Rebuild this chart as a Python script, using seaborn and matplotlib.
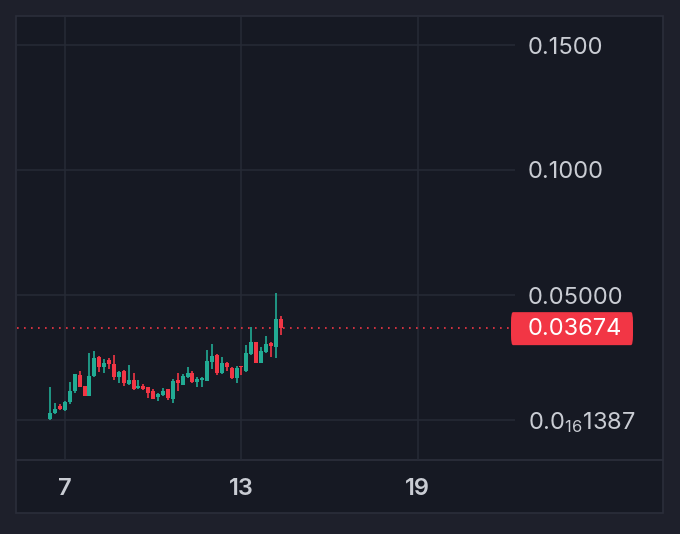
import numpy as np
import pandas as pd
import matplotlib
matplotlib.use("Agg")
import matplotlib.pyplot as plt
import matplotlib.transforms as mtransforms
from matplotlib.patches import Rectangle, FancyBboxPatch
from matplotlib.lines import Line2D
import seaborn as sns

# ---------------- data (4-hour candles) ----------------
start_day = 6.5          # first candle: day 6, 12:00
candle_hours = 4
opens = [0.0003, 0.0027, 0.0056, 0.0040, 0.0071, 0.0116, 0.0180, 0.0136, 0.0096, 0.0176,
         0.0253, 0.0211, 0.0240, 0.0224, 0.0173, 0.0197, 0.0144, 0.0160, 0.0127, 0.0136,
         0.0131, 0.0117, 0.0091, 0.0100, 0.0123, 0.0085, 0.0160, 0.0141, 0.0173, 0.0187,
         0.0153, 0.0160, 0.0157, 0.0233, 0.0260, 0.0189, 0.0227, 0.0207, 0.0169, 0.0216,
         0.0197, 0.0264, 0.0311, 0.0229, 0.0273, 0.0307, 0.0293, 0.0403]
highs = [0.0131, 0.0069, 0.0064, 0.0077, 0.0153, 0.0185, 0.0197, 0.0138, 0.0267, 0.0276,
         0.0256, 0.0243, 0.0247, 0.0260, 0.0198, 0.0200, 0.0220, 0.0189, 0.0160, 0.0144,
         0.0133, 0.0123, 0.0107, 0.0127, 0.0125, 0.0163, 0.0189, 0.0184, 0.0211, 0.0196,
         0.0173, 0.0173, 0.0280, 0.0303, 0.0265, 0.0253, 0.0233, 0.0211, 0.0216, 0.0217,
         0.0300, 0.0371, 0.0313, 0.0293, 0.0336, 0.0313, 0.0509, 0.0416]
lows = [0.0001, 0.0025, 0.0040, 0.0038, 0.0065, 0.0110, 0.0131, 0.0096, 0.0096, 0.0172,
        0.0193, 0.0189, 0.0203, 0.0160, 0.0147, 0.0136, 0.0140, 0.0120, 0.0124, 0.0120,
        0.0087, 0.0083, 0.0077, 0.0097, 0.0080, 0.0067, 0.0117, 0.0139, 0.0170, 0.0149,
        0.0133, 0.0133, 0.0155, 0.0203, 0.0180, 0.0185, 0.0197, 0.0165, 0.0149, 0.0180,
        0.0193, 0.0260, 0.0227, 0.0227, 0.0270, 0.0251, 0.0247, 0.0340]
closes = [0.0027, 0.0043, 0.0043, 0.0073, 0.0116, 0.0183, 0.0133, 0.0096, 0.0176, 0.0249,
          0.0211, 0.0227, 0.0224, 0.0173, 0.0193, 0.0147, 0.0160, 0.0123, 0.0136, 0.0123,
          0.0107, 0.0085, 0.0104, 0.0117, 0.0087, 0.0157, 0.0147, 0.0176, 0.0187, 0.0151,
          0.0164, 0.0167, 0.0236, 0.0256, 0.0189, 0.0227, 0.0211, 0.0167, 0.0207, 0.0211,
          0.0267, 0.0313, 0.0229, 0.0277, 0.0304, 0.0296, 0.0403, 0.03674]
last_price = 0.03674
last_price_label = "0.03674"

x_ticks = [7, 13, 19]
x_tick_labels = ["7", "13", "19"]
y_ticks = [0.15, 0.10, 0.05, 0.0]
y_tick_labels = ["0.1500", "0.1000", "0.05000", "0.0$_{16}$1387"]

df = pd.DataFrame({"open": opens, "high": highs, "low": lows, "close": closes})
df["t"] = start_day + np.arange(len(df)) * candle_hours / 24.0
df["up"] = df["close"] >= df["open"]

# ---------------- style ----------------
BG_OUT = "#1e202b"
BG_PANEL = "#161923"
GRID = "#262a36"
BORDER = "#2b2e3a"
TXT = "#c9ccd3"
GREEN = "#22ab94"
RED = "#f23645"

sns.set_theme(style="dark", rc={
    "axes.facecolor": BG_PANEL,
    "figure.facecolor": BG_OUT,
    "grid.color": GRID,
    "text.color": TXT,
    "xtick.color": TXT,
    "ytick.color": TXT,
})
plt.rcParams["font.family"] = ["Inter", "DejaVu Sans"]
plt.rcParams["mathtext.default"] = "regular"

W, H = 680, 534
fig = plt.figure(figsize=(W / 100, H / 100), dpi=100)

# chart panel background + border
panel = Rectangle((16 / W, (H - 513) / H), (663 - 16) / W, (513 - 16) / H,
                  transform=fig.transFigure, facecolor=BG_PANEL, edgecolor=BORDER,
                  linewidth=1.2, zorder=-10)
fig.patches.append(panel)

ax = fig.add_axes([17 / W, (H - 460) / H, 498 / W, 443 / H])
ax.set_zorder(5)
ax.patch.set_alpha(0)
ax.set_xlim(5.37, 22.30)
ax.set_ylim(-0.016, 0.1612)

ax.grid(True, color=GRID, linewidth=1.1)
ax.set_axisbelow(True)
for s in ax.spines.values():
    s.set_visible(False)

# candles
body_w = 0.82 * candle_hours / 24.0
colors = np.where(df["up"], GREEN, RED)
ax.vlines(df["t"], df["low"], df["high"], colors=colors, linewidth=1.2, zorder=3)
body_bottom = np.minimum(df["open"], df["close"])
body_height = np.maximum(np.abs(df["close"] - df["open"]), 0.0006)
ax.bar(df["t"], body_height, bottom=body_bottom, width=body_w, color=colors,
       linewidth=0, zorder=4)

# last price dotted line
ax.axhline(last_price, xmin=0, xmax=0.992, color=RED, linewidth=1.2,
           linestyle=(0, (1, 3.2)), zorder=2)

# ticks
ax.set_xticks(x_ticks)
ax.set_xticklabels(x_tick_labels, fontsize=17, fontweight="semibold")
ax.tick_params(axis="x", length=0, pad=13)
ax.yaxis.tick_right()
ax.set_yticks(y_ticks)
ax.set_yticklabels(y_tick_labels, fontsize=17)
ax.tick_params(axis="y", length=0, pad=9)
for lbl in ax.get_yticklabels():
    lbl.set_horizontalalignment("left")

# last price tag
blend = mtransforms.blended_transform_factory(ax.transAxes, ax.transData)
tag_h = 33 * (0.1772 / 443)
tag = FancyBboxPatch(((511 - 17) / 498, last_price - tag_h / 2 - 0.0002),
                     (633 - 511) / 498, tag_h,
                     boxstyle="round,pad=0,rounding_size=0.004",
                     mutation_aspect=1, transform=blend, facecolor=RED,
                     edgecolor="none", clip_on=False, zorder=6)
ax.add_patch(tag)
ax.text((528 - 17) / 498, last_price - 0.0002, last_price_label, transform=blend,
        ha="left", va="center", fontsize=17, color="white", clip_on=False, zorder=7)

# separator between plot and time scale
fig.add_artist(Line2D([16 / W, 663 / W], [(H - 460) / H, (H - 460) / H],
                      transform=fig.transFigure, color=BORDER, linewidth=1.3))

fig.savefig("out.png", dpi=100, facecolor=BG_OUT)
